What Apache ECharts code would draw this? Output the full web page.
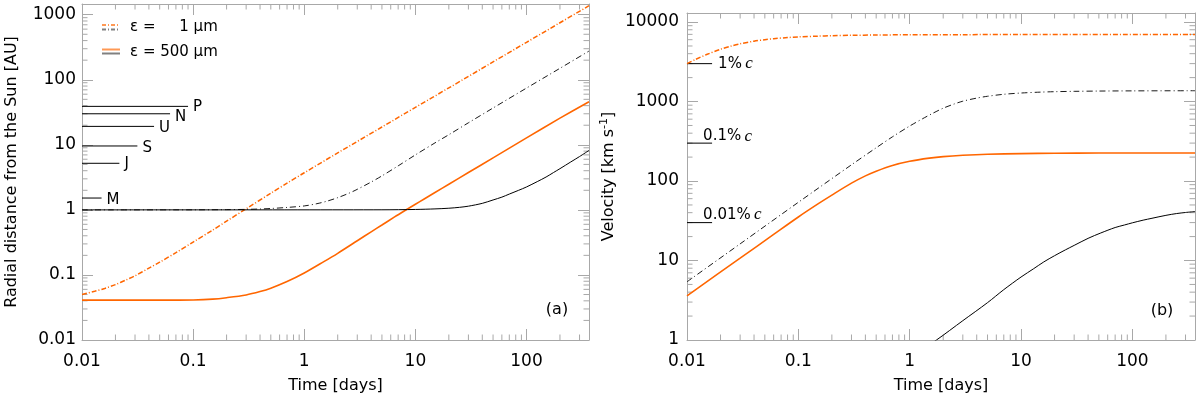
<!DOCTYPE html>
<html>
<head>
<meta charset="utf-8">
<script src="https://cdn.jsdelivr.net/npm/echarts@6/dist/echarts.min.js"></script>
<style>
  html, body { margin: 0; padding: 0; background: #fff; }
  #main { width: 1200px; height: 399px; }
</style>
</head>
<body>
<div id="main"></div>
<script>
// axis ranges
const tMin = 0.01, tMax = 365;      // days
const rMin = 0.01, rMax = 1460;     // AU
const vMin = 1, vMax = 13000;       // km/s

// (a) radial distance, [time, AU]
const rOrangeDashDot = [[0.01,0.050],[0.013,0.056],[0.016,0.062],[0.02,0.071],[0.025,0.084],[0.03,0.097],[0.04,0.127],[0.05,0.157],[0.07,0.22],[0.1,0.32],[0.15,0.49],[0.2,0.67],[0.3,1.04],[0.5,1.8],[0.7,2.57],[1,3.72],[2,7.5],[5,18.8],[10,37.6],[20,75],[50,188],[100,376],[200,752],[365,1375]];
const rBlackDashDot = [[0.01,1],[0.1,1.002],[0.2,1.008],[0.3,1.018],[0.4,1.032],[0.5,1.05],[0.7,1.09],[1,1.15],[1.3,1.245],[1.6,1.36],[2,1.54],[2.5,1.79],[3,2.07],[4,2.68],[5,3.33],[7,4.75],[10,7.0],[15,10.7],[20,14.3],[30,21.8],[50,36.8],[100,74.5],[200,150],[365,276]];
const rOrangeSolid = [[0.01,0.041],[0.05,0.041],[0.1,0.0413],[0.15,0.0425],[0.2,0.0447],[0.3,0.0493],[0.4,0.0555],[0.5,0.0625],[0.7,0.079],[1,0.107],[1.5,0.16],[2,0.215],[3,0.335],[4,0.46],[5,0.585],[6.5,0.78],[8,0.97],[10,1.22],[12,1.47],[15,1.85],[20,2.48],[30,3.75],[50,6.3],[100,12.8],[200,25.7],[365,46]];
const rBlackSolid = [[0.01,1],[5,1.003],[10,1.015],[15,1.035],[20,1.06],[25,1.095],[30,1.14],[40,1.26],[50,1.42],[60,1.57],[70,1.75],[85,2.0],[100,2.25],[125,2.72],[150,3.2],[175,3.75],[200,4.3],[250,5.45],[300,6.6],[365,8.2]];

// planets, [AU] and where their marker line stops [days]
const planetNames = ['P', 'N', 'U', 'S', 'J', 'M'];
const planetDist = [39, 30, 19.2, 9.6, 5.2, 1.52];
const planetLineEnd = [0.09, 0.062, 0.0445, 0.0315, 0.0217, 0.015];

// (b) velocity, [time, km/s]
const vOrangeDashDot = [[0.01,3000],[0.012,3400],[0.015,3900],[0.02,4550],[0.025,5000],[0.03,5330],[0.04,5750],[0.05,6000],[0.06,6180],[0.08,6380],[0.1,6500],[0.15,6650],[0.2,6740],[0.3,6810],[0.5,6870],[1,6920],[3,6945],[10,6955],[365,6960]];
const vBlackDashDot = [[0.01,5.4],[0.03,16.2],[0.1,54],[0.3,160],[0.5,262],[0.7,360],[1,492],[1.3,606],[1.6,708],[2,825],[2.5,930],[3,1010],[4,1105],[5,1165],[7,1234],[10,1280],[15,1314],[20,1330],[30,1344],[50,1355],[100,1362],[365,1368]];
const vOrangeSolid = [[0.01,3.6],[0.03,10.7],[0.06,21.3],[0.1,35.3],[0.15,51.5],[0.2,66.5],[0.3,94],[0.4,116],[0.5,133],[0.7,157],[1,177],[1.5,194],[2,203],[3,211],[5,217.5],[10,221.5],[20,224],[50,225],[365,225]];
const vBlackSolid = [[1,0.6],[1.74,1.0],[3,1.75],[5,2.95],[7,4.3],[10,6.2],[13,7.9],[16,9.6],[20,11.5],[25,13.6],[30,15.5],[40,19],[52,22.2],[70,26],[85,28],[100,29.8],[125,32.2],[150,34],[200,37],[250,39],[300,40.2],[365,41.3]];

// fractions of the speed of light
const cLabels = ['1%', '0.1%', '0.01%'];
const cSpeeds = [2998, 299.8, 29.98];
const cLineEnd = 0.0168;

const FONT = 'DejaVu Sans';
const AXIS_COLOR = '#a8a8a8';
const ORANGE = '#ff6600';
const DASHDOT_O = [5, 2, 1, 2];
const DASHDOT_K = [6, 3, 1, 3];

// label offsets (style only)
const planetLabelOffset = [[0, 1], [0, 3], [0, 2], [0, 2], [0, 1], [0, 2]];
const cLabelOffset = [[1, 0], [-14, -7], [-14, -8]];

const fmt = v => String(+(+v).toPrecision(4));

const chart = echarts.init(document.getElementById('main'), null, {renderer: 'canvas'});

// log axes pair for one panel
const makeX = (grid, labelMargin) => [{
    type: 'log', logBase: 10, gridIndex: grid, min: tMin, max: tMax, position: 'bottom',
    name: 'Time [days]', nameLocation: 'middle', nameGap: 38,
    nameTextStyle: {fontFamily: FONT, fontSize: 16, color: '#000'},
    axisLine: {show: true, lineStyle: {color: AXIS_COLOR}},
    axisTick: {show: true, inside: true, length: 11, lineStyle: {color: AXIS_COLOR}},
    axisLabel: {fontFamily: FONT, fontSize: 17, color: '#000', margin: labelMargin, showMaxLabel: false, formatter: fmt},
    splitLine: {show: false}
}, {
    type: 'log', logBase: 10, gridIndex: grid, min: tMin, max: tMax, position: 'top',
    axisLine: {show: true, lineStyle: {color: AXIS_COLOR}},
    axisTick: {show: true, inside: true, length: 11, lineStyle: {color: AXIS_COLOR}},
    axisLabel: {show: false},
    splitLine: {show: false}
}];

const makeY = (grid, lo, hi, name, nameGap, labelMargin, rich) => [{
    type: 'log', logBase: 10, gridIndex: grid, min: lo, max: hi, position: 'left',
    name, nameLocation: 'middle', nameRotate: 90, nameGap,
    nameTextStyle: {fontFamily: FONT, fontSize: 16, color: '#000', rich},
    axisLine: {show: true, lineStyle: {color: AXIS_COLOR}},
    axisTick: {show: true, inside: true, length: 11, lineStyle: {color: AXIS_COLOR}},
    axisLabel: {fontFamily: FONT, fontSize: 17, color: '#000', margin: labelMargin, showMaxLabel: false, formatter: fmt},
    splitLine: {show: false}
}, {
    type: 'log', logBase: 10, gridIndex: grid, min: lo, max: hi, position: 'right',
    axisLine: {show: true, lineStyle: {color: AXIS_COLOR}},
    axisTick: {show: true, inside: true, length: 11, lineStyle: {color: AXIS_COLOR}},
    axisLabel: {show: false},
    splitLine: {show: false}
}];

// 2..9 x 10^n inside a range
const minorValues = (lo, hi) => {
    let out = [];
    for (let e = Math.floor(Math.log10(lo)) - 1; e <= Math.ceil(Math.log10(hi)); e++) {
        for (let m = 2; m <= 9; m++) {
            let v = +(m * Math.pow(10, e)).toPrecision(6);
            if (v > lo && v < hi) out.push(v);
        }
    }
    return out;
};

// minor ticks on all four sides of a panel
const minorTicks = (xi, yi, yLo, yHi) => {
    const tick = (x1, y1, x2, y2) => ({type: 'line', shape: {x1, y1, x2, y2}, style: {stroke: AXIS_COLOR, lineWidth: 1}});
    return [{
        type: 'custom', xAxisIndex: xi, yAxisIndex: yi, silent: true, clip: false, z: 1,
        data: minorValues(tMin, tMax).map(t => [t, yLo]),
        renderItem: (params, api) => {
            let b = api.coord([api.value(0), yLo]);
            let t = api.coord([api.value(0), yHi]);
            return {type: 'group', children: [tick(b[0], b[1], b[0], b[1] - 5.5), tick(t[0], t[1], t[0], t[1] + 5.5)]};
        }
    }, {
        type: 'custom', xAxisIndex: xi, yAxisIndex: yi, silent: true, clip: false, z: 1,
        data: minorValues(yLo, yHi).map(v => [tMin, v]),
        renderItem: (params, api) => {
            let l = api.coord([tMin, api.value(1)]);
            let r = api.coord([tMax, api.value(1)]);
            return {type: 'group', children: [tick(l[0], l[1], l[0] + 5.5, l[1]), tick(r[0], r[1], r[0] - 5.5, r[1])]};
        }
    }];
};

const curve = (name, data, color, width, dash, xi, yi) => ({
    name, type: 'line', data, xAxisIndex: xi, yAxisIndex: yi,
    smooth: 0.3, showSymbol: false, symbol: 'none', clip: true, z: 3,
    lineStyle: {color, width, type: dash || 'solid'}
});

let series = [];
series.push(...minorTicks(0, 0, rMin, rMax));
series.push(...minorTicks(2, 2, vMin, vMax));

// planet markers
planetNames.forEach((p, i) => {
    series.push({
        name: p, type: 'line', xAxisIndex: 0, yAxisIndex: 0, showSymbol: false, symbol: 'none', z: 2,
        data: [[tMin, planetDist[i]], [planetLineEnd[i], planetDist[i]]],
        lineStyle: {color: '#000', width: 1},
        endLabel: {show: true, formatter: p, distance: 5, offset: planetLabelOffset[i],
            fontFamily: FONT, fontSize: 15, color: '#000'}
    });
});

// speed of light markers
cLabels.forEach((c, i) => {
    series.push({
        name: c + ' c', type: 'line', xAxisIndex: 2, yAxisIndex: 2, showSymbol: false, symbol: 'none', z: 2,
        data: [[tMin, cSpeeds[i]], [cLineEnd, cSpeeds[i]]],
        lineStyle: {color: '#000', width: 1},
        endLabel: {show: true, formatter: '{a|' + c + '} {c|c}', distance: 5, offset: cLabelOffset[i],
            rich: {a: {fontFamily: FONT, fontSize: 15, color: '#000'},
                   c: {fontFamily: 'Liberation Serif', fontStyle: 'italic', fontSize: 17, color: '#000'}}}
    });
});

series.push(curve('r 1um orange', rOrangeDashDot, ORANGE, 1.5, DASHDOT_O, 0, 0));
series.push(curve('r 1um black', rBlackDashDot, '#1a1a1a', 1, DASHDOT_K, 0, 0));
series.push(curve('r 500um orange', rOrangeSolid, ORANGE, 1.6, null, 0, 0));
series.push(curve('r 500um black', rBlackSolid, '#000', 1, null, 0, 0));
series.push(curve('v 1um orange', vOrangeDashDot, ORANGE, 1.5, DASHDOT_O, 2, 2));
series.push(curve('v 1um black', vBlackDashDot, '#1a1a1a', 1, DASHDOT_K, 2, 2));
series.push(curve('v 500um orange', vOrangeSolid, ORANGE, 1.6, null, 2, 2));
series.push(curve('v 500um black', vBlackSolid, '#000', 1, null, 2, 2));

// legend text widths so the two entries line up
const ctx = document.createElement('canvas').getContext('2d');
ctx.font = '15px "' + FONT + '"';
const legendRight = 130 + ctx.measureText('ε = 500 µm').width;

const txt = (x, y, text, align, size) => ({
    type: 'text', x, y, style: {text, fontFamily: FONT, fontSize: size || 15, fill: '#000', align: align || 'left', verticalAlign: 'middle'}
});
const seg = (x1, x2, y, color, dash) => ({
    type: 'line', shape: {x1, y1: y, x2, y2: y}, style: {stroke: color, lineWidth: 2, lineDash: dash || null}
});

const option = {
    animation: false,
    backgroundColor: '#fff',
    grid: [
        {left: 82, top: 4, width: 507, height: 336, containLabel: false},
        {left: 687, top: 13, width: 508, height: 327, containLabel: false}
    ],
    xAxis: [...makeX(0, 13), ...makeX(1, 13)],
    yAxis: [
        ...makeY(0, rMin, rMax, 'Radial distance from the Sun [AU]', 62, 6),
        ...makeY(1, vMin, vMax, 'Velocity [km s{sup|-1}]', 69, 8,
            {sup: {fontFamily: FONT, fontSize: 11, color: '#000', verticalAlign: 'top', padding: [0, 0, 8, 0]}})
    ],
    series,
    graphic: [
        // legend
        seg(102, 120, 25, '#ff9955', [4, 2, 1, 2]),
        seg(102, 120, 29.5, '#808080', [4, 2, 1, 2]),
        txt(130, 27, 'ε ='),
        txt(legendRight, 27, '1 µm', 'right'),
        seg(102, 120, 49.5, '#ff9955'),
        seg(102, 120, 53.5, '#808080'),
        txt(130, 52, 'ε = 500 µm'),
        // panel tags
        txt(557, 310, '(a)', 'center', 16),
        txt(1162, 311, '(b)', 'center', 16)
    ]
};

chart.setOption(option);
</script>
</body>
</html>
